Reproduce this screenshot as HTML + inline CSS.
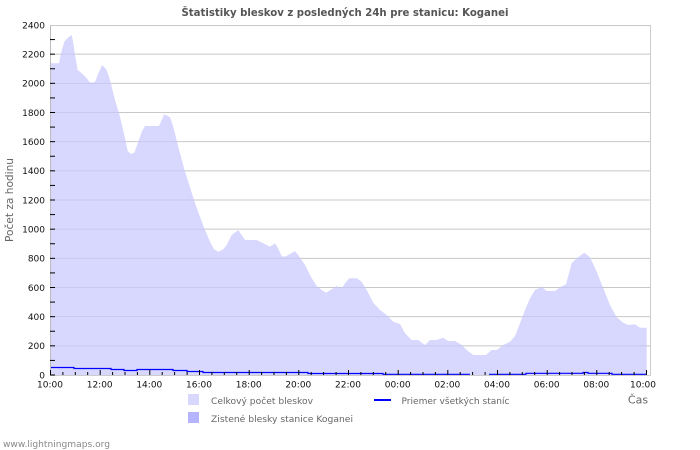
<!DOCTYPE html>
<html><head><meta charset="utf-8"><style>
html,body{margin:0;padding:0;background:#fff;}
svg{display:block;font-family:"DejaVu Sans","Liberation Sans",sans-serif;}
</style></head><body>
<svg width="700" height="450" viewBox="0 0 700 450" xmlns="http://www.w3.org/2000/svg">
<rect width="700" height="450" fill="#fff"/>
<text x="345" y="16" text-anchor="middle" font-size="10.5" font-weight="bold" fill="#555" textLength="327" lengthAdjust="spacingAndGlyphs">Štatistiky bleskov z posledných 24h pre stanicu: Koganei</text>
<g stroke="#c8c8c8" stroke-width="1">
<line x1="51" y1="345.83" x2="650" y2="345.83"/>
<line x1="51" y1="316.67" x2="650" y2="316.67"/>
<line x1="51" y1="287.5" x2="650" y2="287.5"/>
<line x1="51" y1="258.33" x2="650" y2="258.33"/>
<line x1="51" y1="229.17" x2="650" y2="229.17"/>
<line x1="51" y1="200" x2="650" y2="200"/>
<line x1="51" y1="170.83" x2="650" y2="170.83"/>
<line x1="51" y1="141.67" x2="650" y2="141.67"/>
<line x1="51" y1="112.5" x2="650" y2="112.5"/>
<line x1="51" y1="83.33" x2="650" y2="83.33"/>
<line x1="51" y1="54.17" x2="650" y2="54.17"/>
<line x1="51" y1="25.5" x2="650" y2="25.5"/>
</g>
<polygon fill="rgb(200,200,255)" fill-opacity="0.7" points="51,375 51,63.3 59,63.3 61,53 64.3,41.7 68.3,37.3 71.7,35 73.3,43 75,55 77.7,70 81.7,73.3 86.7,78.3 90,82.7 95,82 98.3,73.3 102.3,65 106.7,70 110,80 115,100 120,116.7 125,138.3 127.7,151 131,154 134.3,152.7 138.3,141.7 141.7,131.7 145,126 159,126 164.3,114.3 170,117.3 173.3,126.7 178.3,146.7 185,171.7 190,187 195,203.3 200,216.7 205,230 210,241.7 214,249.3 218.3,251.7 223.3,249.3 226.7,245 231.7,235 238.3,230 245,240 256.7,240 263.3,243.3 270,246.7 275,243.3 277.3,246.7 281.7,256 285,256.7 290,254 295,251 298.3,255 305,265 311.7,278.3 316.7,286 321.7,290 326,292.7 331.7,289.3 336.7,286 341.7,288.3 345,283.3 349.3,278.3 356.7,278.3 361.7,281.7 366.7,290 373.3,302.7 380,310 386.7,315 393.3,321.7 400,324 405,333.3 411.7,340 418.3,340 425,345 430,340 436.7,340 443.3,337.7 448.3,341 455,341 461.7,345 466.7,350 473.3,355 486,355 491.7,350 496.7,350 503.3,345 510,341.7 515,336 520,323.3 525,310 530,298.3 535,290 541.7,286.7 546.7,291 555,291 560,287.3 566,284.3 571.7,263.3 576.7,258.3 584.3,252.7 590,257.3 596.7,271.7 603.3,288.3 610,305 616.7,317.3 623.3,322.7 628.3,325 635,324.3 640,327.7 646.7,327.7 646.7,375"/>
<line x1="50.5" y1="25" x2="50.5" y2="375.5" stroke="#bbb"/>
<line x1="650.5" y1="25" x2="650.5" y2="375.5" stroke="#ccc"/>
<line x1="50.5" y1="375.5" x2="650.5" y2="375.5" stroke="#ccc"/>
<!-- blue average line -->
<g fill="none" stroke="#0000ff" stroke-width="1.2">
<polyline points="51,367.5 74,367.5 74,368.5 111,368.5 111,369.5 124,369.5 124,370.5 137,370.5 137,369.5 173,369.5 173,370.5 187,370.5 187,371.5 203,371.5 203,372.5 308,372.5 308,373.5 383,373.5 383,374.3 470,374.3"/>
<polyline points="489,374.3 526,374.3 526,373.3 583,373.3 583,372.5 588,372.5 588,373.3 612,373.3 612,374.3 646,374.3"/>
</g>
<!-- y ticks -->
<g stroke="#000" stroke-width="1">
<line x1="50" y1="375" x2="55" y2="375"/><line x1="50" y1="360.42" x2="55" y2="360.42"/><line x1="50" y1="345.83" x2="55" y2="345.83"/><line x1="50" y1="331.25" x2="55" y2="331.25"/><line x1="50" y1="316.67" x2="55" y2="316.67"/><line x1="50" y1="302.08" x2="55" y2="302.08"/><line x1="50" y1="287.5" x2="55" y2="287.5"/><line x1="50" y1="272.92" x2="55" y2="272.92"/><line x1="50" y1="258.33" x2="55" y2="258.33"/><line x1="50" y1="243.75" x2="55" y2="243.75"/><line x1="50" y1="229.17" x2="55" y2="229.17"/><line x1="50" y1="214.58" x2="55" y2="214.58"/><line x1="50" y1="200" x2="55" y2="200"/><line x1="50" y1="185.42" x2="55" y2="185.42"/><line x1="50" y1="170.83" x2="55" y2="170.83"/><line x1="50" y1="156.25" x2="55" y2="156.25"/><line x1="50" y1="141.67" x2="55" y2="141.67"/><line x1="50" y1="127.08" x2="55" y2="127.08"/><line x1="50" y1="112.5" x2="55" y2="112.5"/><line x1="50" y1="97.92" x2="55" y2="97.92"/><line x1="50" y1="83.33" x2="55" y2="83.33"/><line x1="50" y1="68.75" x2="55" y2="68.75"/><line x1="50" y1="54.17" x2="55" y2="54.17"/><line x1="50" y1="39.58" x2="55" y2="39.58"/>
</g>
<!-- x ticks -->
<g stroke="#000" stroke-width="1">
<line x1="50.5" y1="370" x2="50.5" y2="375"/><line x1="62.9" y1="372" x2="62.9" y2="375"/><line x1="75.3" y1="372" x2="75.3" y2="375"/><line x1="87.7" y1="372" x2="87.7" y2="375"/>
<line x1="100.2" y1="370" x2="100.2" y2="375"/><line x1="112.6" y1="372" x2="112.6" y2="375"/><line x1="125" y1="372" x2="125" y2="375"/><line x1="137.4" y1="372" x2="137.4" y2="375"/>
<line x1="149.8" y1="370" x2="149.8" y2="375"/><line x1="162.2" y1="372" x2="162.2" y2="375"/><line x1="174.6" y1="372" x2="174.6" y2="375"/><line x1="187.1" y1="372" x2="187.1" y2="375"/>
<line x1="199.5" y1="370" x2="199.5" y2="375"/><line x1="211.9" y1="372" x2="211.9" y2="375"/><line x1="224.3" y1="372" x2="224.3" y2="375"/><line x1="236.7" y1="372" x2="236.7" y2="375"/>
<line x1="249.2" y1="370" x2="249.2" y2="375"/><line x1="261.6" y1="372" x2="261.6" y2="375"/><line x1="274" y1="372" x2="274" y2="375"/><line x1="286.4" y1="372" x2="286.4" y2="375"/>
<line x1="298.8" y1="370" x2="298.8" y2="375"/><line x1="311.2" y1="372" x2="311.2" y2="375"/><line x1="323.6" y1="372" x2="323.6" y2="375"/><line x1="336.1" y1="372" x2="336.1" y2="375"/>
<line x1="348.5" y1="370" x2="348.5" y2="375"/><line x1="360.9" y1="372" x2="360.9" y2="375"/><line x1="373.3" y1="372" x2="373.3" y2="375"/><line x1="385.7" y1="372" x2="385.7" y2="375"/>
<line x1="398.2" y1="370" x2="398.2" y2="375"/><line x1="410.6" y1="372" x2="410.6" y2="375"/><line x1="423" y1="372" x2="423" y2="375"/><line x1="435.4" y1="372" x2="435.4" y2="375"/>
<line x1="447.8" y1="370" x2="447.8" y2="375"/><line x1="460.2" y1="372" x2="460.2" y2="375"/><line x1="472.6" y1="372" x2="472.6" y2="375"/><line x1="485.1" y1="372" x2="485.1" y2="375"/>
<line x1="497.5" y1="370" x2="497.5" y2="375"/><line x1="509.9" y1="372" x2="509.9" y2="375"/><line x1="522.3" y1="372" x2="522.3" y2="375"/><line x1="534.7" y1="372" x2="534.7" y2="375"/>
<line x1="547.2" y1="370" x2="547.2" y2="375"/><line x1="559.6" y1="372" x2="559.6" y2="375"/><line x1="572" y1="372" x2="572" y2="375"/><line x1="584.4" y1="372" x2="584.4" y2="375"/>
<line x1="596.8" y1="370" x2="596.8" y2="375"/><line x1="609.2" y1="372" x2="609.2" y2="375"/><line x1="621.6" y1="372" x2="621.6" y2="375"/><line x1="634.1" y1="372" x2="634.1" y2="375"/>
<line x1="646.5" y1="370" x2="646.5" y2="375"/>
</g>
<!-- y labels -->
<g font-size="9" fill="#111" text-anchor="end">
<text x="45" y="378.3">0</text>
<text x="45" y="349.1">200</text>
<text x="45" y="320">400</text>
<text x="45" y="290.8">600</text>
<text x="45" y="261.6">800</text>
<text x="45" y="232.5">1000</text>
<text x="45" y="203.3">1200</text>
<text x="45" y="174.1">1400</text>
<text x="45" y="145">1600</text>
<text x="45" y="115.8">1800</text>
<text x="45" y="86.6">2000</text>
<text x="45" y="57.5">2200</text>
<text x="45" y="28.3">2400</text>
</g>
<!-- x labels -->
<g font-size="9" fill="#111" text-anchor="middle">
<text x="50" y="387.5">10:00</text>
<text x="99.7" y="387.5">12:00</text>
<text x="149.3" y="387.5">14:00</text>
<text x="199" y="387.5">16:00</text>
<text x="248.7" y="387.5">18:00</text>
<text x="298.3" y="387.5">20:00</text>
<text x="348" y="387.5">22:00</text>
<text x="397.7" y="387.5">00:00</text>
<text x="447.3" y="387.5">02:00</text>
<text x="497" y="387.5">04:00</text>
<text x="546.7" y="387.5">06:00</text>
<text x="596.3" y="387.5">08:00</text>
<text x="643" y="387.5">10:00</text>
</g>
<text x="638" y="403.5" text-anchor="middle" font-size="11" fill="#666">Čas</text>
<text transform="translate(13,200) rotate(-90)" text-anchor="middle" font-size="11" fill="#666" textLength="84" lengthAdjust="spacingAndGlyphs">Počet za hodinu</text>
<!-- legend -->
<rect x="188" y="394" width="11" height="11" fill="#d8d8ff"/>
<text x="211" y="404" font-size="9" fill="#666" textLength="102" lengthAdjust="spacingAndGlyphs">Celkový počet bleskov</text>
<rect x="188" y="412" width="11" height="11" fill="#b4b4ff"/>
<text x="211" y="422" font-size="9" fill="#666" textLength="142" lengthAdjust="spacingAndGlyphs">Zistené blesky stanice Koganei</text>
<line x1="374" y1="400" x2="391" y2="400" stroke="#0000ff" stroke-width="2"/>
<text x="401.5" y="404" font-size="9" fill="#666" textLength="108" lengthAdjust="spacingAndGlyphs">Priemer všetkých staníc</text>
<text x="3" y="447" font-size="9" fill="#888" textLength="107" lengthAdjust="spacingAndGlyphs">www.lightningmaps.org</text>
</svg>
</body></html>
